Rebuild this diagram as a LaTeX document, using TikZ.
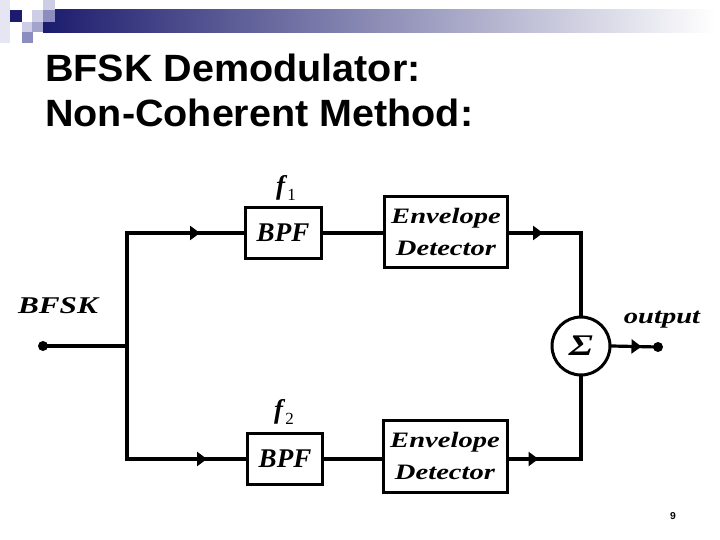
\documentclass[tikz,border=0pt]{standalone}
\usepackage{fontspec}
\setmainfont{Liberation Serif}
\newfontfamily\titlefont[FakeStretch=1.04]{Liberation Sans}
\newfontfamily\blockfont[FakeStretch=1.3]{Liberation Serif}
\usetikzlibrary{arrows.meta,positioning,decorations.markings}
\definecolor{slidenavy}{RGB}{28,28,110}
\definecolor{slidelav}{RGB}{205,205,230}
\definecolor{slidemid}{RGB}{140,140,190}
\newcommand{\freqlabel}[1]{\textbf{\textit{f}}\raisebox{-6pt}{\fontsize{17}{17}\selectfont #1}}

\begin{document}
\begin{tikzpicture}[x=1pt,y=-1pt,
    blk/.style={draw,line width=3pt,inner sep=0pt},
    wire/.style={line width=3.2pt,line cap=rect},
    midarrow/.style={postaction={decorate},decoration={markings,
      mark=at position #1 with {\arrow{Triangle[length=10pt,width=14pt]}}}},
    dot/.style={circle,fill,inner sep=0pt,minimum size=10pt}]
  \useasboundingbox (0,0) rectangle (720,540);
  % Slide decoration
  \shade[left color=slidenavy,right color=white] (43,10) rectangle (715,33);
  \fill[slidelav!50] (0,0) rectangle (10,43);
  \fill[slidenavy] (10,10) rectangle (22,22);
  \fill[slidelav] (43,0) rectangle (55,10);
  \fill[slidemid] (43,10) rectangle (55,22);
  \fill[slidelav] (32,10) rectangle (43,22);
  \fill[slidelav] (22,22) rectangle (32,32);
  \fill[slidemid!80] (32,22) rectangle (43,32);
  \fill[slidemid] (22,32) rectangle (33,43);
  % Title
  \node[anchor=base west,inner sep=0pt,font=\titlefont\bfseries\fontsize{38}{38}\selectfont] (title1) at (45,82) {BFSK Demodulator:};
  \node[anchor=base west,inner sep=0pt,font=\titlefont\bfseries\fontsize{38}{38}\selectfont] (title2) at (45,127) {Non-Coherent Method:};
  % Blocks
  \node[blk,minimum width=76pt,minimum height=51pt,font=\bfseries\itshape\fontsize{27}{27}\selectfont] (bpf1) at (283,233) {BPF};
  \node[blk,minimum width=75pt,minimum height=51pt,font=\bfseries\itshape\fontsize{27}{27}\selectfont] (bpf2) at (285,459) {BPF};
  \node[blk,minimum width=123pt,minimum height=71pt,align=center,font=\blockfont\bfseries\itshape\fontsize{22}{32}\selectfont] (env1) at (446,232) {Envelope\\Detector};
  \node[blk,minimum width=124pt,minimum height=72pt,align=center,font=\blockfont\bfseries\itshape\fontsize{22}{32}\selectfont] (env2) at (445,456) {Envelope\\Detector};
  \node[blk,circle,minimum size=58pt,font=\blockfont\bfseries\itshape\fontsize{30}{30}\selectfont] (sum) at (581,346) {Σ};
  % Labels
  \node[font=\fontsize{27}{27}\selectfont] (f1) at (286,188) {\freqlabel{1}};
  \node[font=\fontsize{27}{27}\selectfont] (f2) at (284,412) {\freqlabel{2}};
  \node[font=\blockfont\bfseries\itshape\fontsize{24}{24}\selectfont] (inlabel) at (58,306) {BFSK};
  \node[font=\blockfont\bfseries\itshape\fontsize{22}{22}\selectfont] (outlabel) at (662,320) {output};
  \node[font=\titlefont\bfseries\fontsize{10}{10}\selectfont] (page) at (673,516) {9};
  % Terminals and wires
  \node[dot] (src) at (43,346) {};
  \node[dot] (out) at (658,347) {};
  \coordinate (split) at (127,346);
  \coordinate (up) at (127,233);
  \coordinate (dn) at (127,459);
  \draw[wire] (src) -- (split);
  \draw[wire] (up) -- (dn);
  \draw[wire,midarrow=73pt] (up) -- (bpf1);
  \draw[wire,midarrow=80pt] (dn) -- (bpf2);
  \draw[wire] (bpf1) -- (bpf1 -| env1.west);
  \draw[wire] (bpf2) -- (bpf2 -| env2.west);
  \draw[wire,midarrow=34pt] (env1.east |- up) -| (sum.north);
  \draw[wire,midarrow=30pt] (env2.east |- dn) -| (sum.south);
  \draw[wire,midarrow=30pt] (sum.east) -- (out);
\end{tikzpicture}
\end{document}
